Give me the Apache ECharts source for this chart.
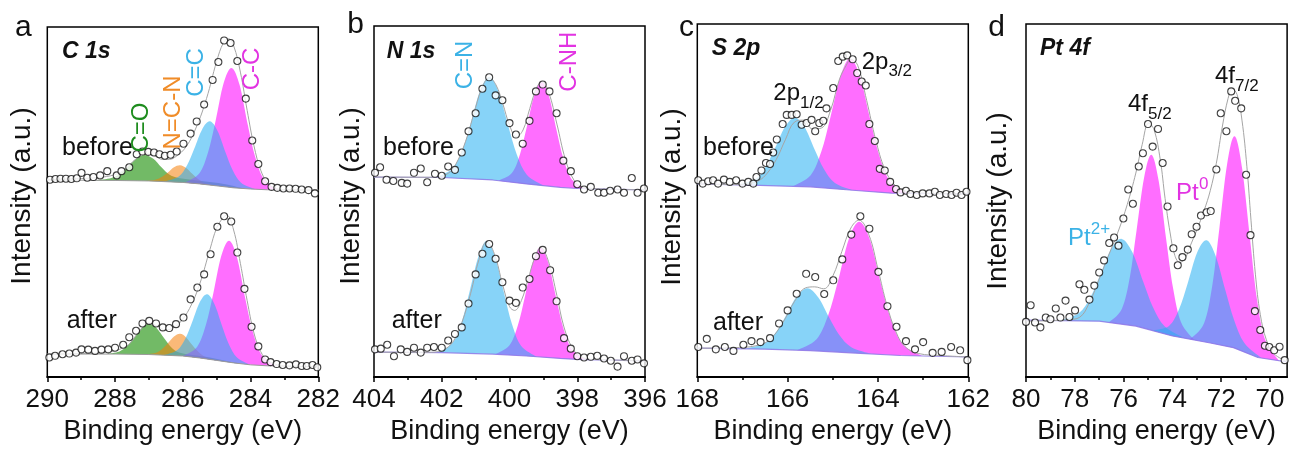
<!DOCTYPE html>
<html><head><meta charset="utf-8">
<script src="https://cdn.jsdelivr.net/npm/echarts@6/dist/echarts.min.js"></script>
<style>html,body{margin:0;padding:0;background:#fff}#c{width:1290px;height:450px}</style>
</head><body><div id="c"></div>
<script>
// ---------- tick labels ----------
const ticksA = [290, 288, 286, 284, 282];
const minorA = [289, 287, 285, 283];
const ticksB = [404, 402, 400, 398, 396];
const minorB = [403, 401, 399, 397];
const ticksC = [168, 166, 164, 162];
const minorC = [167, 165, 163];
const ticksD = [80, 78, 76, 74, 72, 70];
const minorD = [79, 77, 75, 73, 71];

// ---------- panel a : C 1s ----------
const scatterAB = [[289.92,201.3],[289.76,202],[289.61,202.3],[289.45,202.3],[289.29,202],[289.13,202.7],[288.99,208.3],[288.82,203.3],[288.64,204],[288.44,205.7],[288.23,210],[287.95,205.7],[287.81,210],[287.58,214],[287.36,227.3],[287.19,230],[287.02,229.7],[286.85,229],[286.69,227.3],[286.53,225.7],[286.36,226.7],[286.18,230],[285.98,238],[285.77,248.3],[285.59,260.7],[285.37,278],[285.12,303],[284.95,321.3],[284.78,343.3],[284.59,340.7],[284.39,322.3],[284.14,284],[283.95,241.3],[283.77,217.3],[283.57,199.7],[283.38,194],[283.21,193],[283.03,192.3],[282.85,192.3],[282.67,192],[282.49,191.3],[282.29,190.7],[282.10,187.3]];
const envAB = [[290,201.5],[289,202.5],[288.5,203.5],[288,206.5],[287.7,212],[287.4,222],[287.12,227.5],[286.85,226],[286.6,222],[286.4,222],[286.2,225],[285.9,235],[285.6,255],[285.3,284],[285.0,322],[284.8,341],[284.65,345],[284.5,338],[284.3,311],[284.1,272],[283.9,236],[283.7,211],[283.5,198],[283.3,193],[283,191],[282,190.5]];
const bgAB = [[290,201],[288,200.5],[287,200],[286,198.5],[285.5,197],[285,195],[284.5,193],[284,191.8],[283.5,191],[282,190.7]];
const peakAB_CO = [[288.56,200.6],[288.11,202.9],[287.84,207.8],[287.62,214.8],[287.37,223.0],[287.12,226.6],[286.87,222.6],[286.63,213.9],[286.40,206.5],[286.13,203],[285.68,201],[285.2,199],[284.7,196.5],[284.2,192.3]];
const peakAB_NCN = [[287.14,200.1],[286.81,201.3],[286.61,204.3],[286.44,208.7],[286.26,214.0],[286.08,216.1],[285.90,213.3],[285.72,207.3],[285.55,202.1],[285.35,198.0],[285.02,195.1]];
const peakAB_CdC = [[286.54,199.3],[286.12,204.5],[285.87,216.2],[285.66,233.0],[285.43,252.6],[285.20,260.8],[284.97,250.8],[284.74,229.4],[284.53,211.2],[284.28,198.3],[283.86,191.6]];
const peakAB_CC = [[285.94,198.2],[285.51,207.9],[285.25,229.9],[285.03,261.7],[284.80,299.1],[284.56,315.3],[284.32,297.5],[284.09,258.6],[283.87,225.5],[283.61,202.1],[283.18,190.9]];

const scatterAA = [[289.94,20],[289.77,21.7],[289.55,23.3],[289.35,24],[289.15,25],[288.99,28.3],[288.79,28],[288.59,26.7],[288.40,28],[288.20,28.3],[288.00,30],[287.76,33],[287.58,40.7],[287.38,47.3],[287.19,54.7],[286.99,57.3],[286.79,54.7],[286.59,50.7],[286.40,50],[286.20,54],[285.98,60.7],[285.77,79.3],[285.57,91.3],[285.37,104.7],[285.18,125.3],[284.98,153.3],[284.78,164],[284.57,158.7],[284.39,127],[284.18,90],[283.97,51.3],[283.77,31.3],[283.57,18],[283.41,15.3],[283.23,13.3],[283.05,12.3],[282.85,12],[282.66,13],[282.49,11.3],[282.34,11.3],[282.17,12.3],[282.03,10]];
const envAA = [[290,23.5],[289,24],[288.5,24.5],[288.2,25.5],[287.9,28],[287.6,33],[287.3,46],[287.0,55],[286.75,52],[286.5,48],[286.3,50],[286.1,55],[285.8,70],[285.5,95],[285.2,130],[285.0,152],[284.8,163],[284.7,165],[284.5,150],[284.3,116],[284.1,78],[283.9,45],[283.7,26],[283.5,17],[283.2,12.5],[283,11.5],[282,10.5]];
const bgAA = [[290,23.5],[288,23.5],[287,23],[286,21.5],[285.5,19.5],[285,17],[284.5,14.5],[284,12.5],[283.5,11.5],[282,10.5]];
const peakAA_CO = [[288.27,23.5],[287.87,26.2],[287.63,32.1],[287.43,40.4],[287.21,50.2],[286.99,54.5],[286.77,49.8],[286.55,39.5],[286.35,30.8],[286.11,25.0],[285.71,22.5],[285.2,20],[284.7,16.5],[284.2,13.3]];
const peakAA_NCN = [[287.14,23.1],[286.81,24.7],[286.61,28.7],[286.44,34.5],[286.26,41.3],[286.08,44.1],[285.90,40.5],[285.72,32.7],[285.55,26.0],[285.35,20.8],[285.02,17.1]];
const peakAA_CdC = [[286.56,22.3],[286.16,27.6],[285.92,39.6],[285.72,56.4],[285.50,76.3],[285.28,84.4],[285.06,74.1],[284.84,52.2],[284.64,33.6],[284.40,20.0],[284.00,12.5]];
const peakAA_CC = [[286.01,21.5],[285.58,30.8],[285.32,53.1],[285.10,85.2],[284.87,122.9],[284.63,139.1],[284.39,120.7],[284.16,80.8],[283.94,46.9],[283.68,22.9],[283.25,11.3]];

// ---------- panel b : N 1s ----------
const scatterBB = [[403.97,208.3],[403.82,214],[403.63,201.3],[403.43,200],[403.18,198],[403.02,197.3],[402.82,208.3],[402.62,212.7],[402.43,198.7],[402.20,207.3],[402.00,205.3],[401.81,214.7],[401.61,211.3],[401.41,229],[401.21,250.7],[401.00,269],[400.80,294],[400.60,305.7],[400.41,287.3],[400.21,282.3],[400.00,259],[399.81,247.3],[399.61,238],[399.41,261.3],[399.22,291.3],[399.02,298.3],[398.82,291.3],[398.61,269],[398.41,220.7],[398.19,210],[398.00,196.7],[397.80,191.3],[397.60,194],[397.38,188],[397.21,188],[397.03,190],[396.81,191.3],[396.62,188],[396.39,203],[396.22,188],[396.03,192.3]];
const envBB = [[404,204],[402.5,203.8],[402.1,204.2],[401.8,208],[401.6,216],[401.3,240],[401.0,275],[400.8,296],[400.6,305],[400.4,298],[400.2,279],[400.0,257],[399.8,245],[399.6,252],[399.4,274],[399.2,295],[399.05,301],[398.85,291],[398.6,258],[398.35,222],[398.1,201],[397.85,194],[397.5,192.3],[397,191.5],[396,191]];
const bgBB = [[404,204],[402,203.5],[400.5,201],[399.5,197],[398.5,193.5],[398,192.3],[396,191]];
const peakBB_CN = [[402.19,203.6],[401.69,212.4],[401.39,231.7],[401.14,259.4],[400.87,291.9],[400.59,306.2],[400.32,290.6],[400.04,256.5],[399.79,227.4],[399.49,206.4],[398.99,195.2]];
const peakBB_CNH = [[400.33,200.3],[399.93,208.1],[399.69,227.3],[399.49,254.9],[399.27,287.4],[399.05,301.4],[398.83,285.9],[398.61,251.8],[398.41,222.8],[398.17,202.1],[397.77,192.2]];

const scatterBA = [[403.97,28.3],[403.80,29],[403.61,33],[403.41,21.3],[403.21,28.3],[403.02,25.7],[402.82,30],[402.62,25],[402.43,30],[402.23,30.7],[402.00,30],[401.81,37.3],[401.61,44],[401.41,50.7],[401.21,75],[401.00,104.7],[400.80,125.7],[400.60,135.7],[400.41,120.7],[400.21,96.7],[400.00,78],[399.81,75.7],[399.61,91.3],[399.41,100],[399.22,123.3],[399.02,129.7],[398.80,109],[398.61,77.3],[398.39,39.7],[398.19,29],[398.00,21.3],[397.80,20],[397.60,20.7],[397.41,21.7],[397.21,19],[397.01,16.7],[396.81,10.7],[396.62,21.3],[396.39,16.7],[396.22,18],[396.03,14]];
const envBA = [[404,25.5],[402.5,25.2],[402.1,26],[401.8,31],[401.6,40],[401.4,56],[401.15,85],[400.9,120],[400.67,138],[400.45,126],[400.2,94],[400.0,72],[399.85,68],[399.65,78],[399.45,100],[399.25,122],[399.08,132],[398.85,118],[398.6,83],[398.4,52],[398.15,30],[397.9,21],[397.5,18],[397,17.5],[396,16.5]];
const bgBA = [[404,25.5],[402,25],[400.5,23.5],[399.5,21.5],[398.5,19],[398,18],[396,16.5]];
const peakBA_CN = [[402.14,25.0],[401.68,34.9],[401.41,56.4],[401.18,87.0],[400.92,122.8],[400.67,138.7],[400.42,122.2],[400.16,85.6],[399.93,54.4],[399.66,32.0],[399.20,20.8]];
const peakBA_CNH = [[400.42,23.3],[400.00,32.5],[399.75,53.1],[399.54,82.8],[399.31,117.3],[399.08,132.5],[398.85,116.2],[398.62,80.5],[398.41,49.9],[398.16,28.3],[397.74,17.8]];

// ---------- panel c : S 2p ----------
const scatterCB = [[167.98,200.7],[167.88,197.3],[167.76,199.7],[167.65,200.7],[167.54,197.3],[167.41,201.3],[167.28,199],[167.14,200.7],[167.00,197.3],[166.87,199],[166.76,197.3],[166.69,204],[166.58,210.7],[166.48,218.3],[166.39,217.3],[166.32,229],[166.24,242.3],[166.11,258],[166.02,267.3],[165.91,267.3],[165.80,268],[165.69,257.3],[165.58,259],[165.47,262.3],[165.39,250.7],[165.30,259],[165.21,261.3],[165.14,274],[164.99,294.7],[164.88,322.3],[164.78,326.7],[164.68,328],[164.56,324],[164.46,310],[164.36,301.3],[164.27,297.3],[164.19,258],[164.07,240.7],[163.96,212.3],[163.85,210.7],[163.73,199],[163.60,191.7],[163.50,188.3],[163.38,190],[163.28,186.7],[163.14,185.7],[163.01,187.3],[162.86,187.3],[162.74,189],[162.63,185.7],[162.49,186.7],[162.37,185.7],[162.26,188],[162.15,185.7],[162.04,189]];
const envCB = [[168,197],[167.2,196.3],[166.9,197],[166.65,200],[166.45,208],[166.25,222],[166.05,242],[165.85,260],[165.65,262],[165.45,253],[165.25,254],[165.05,272],[164.85,304],[164.7,318],[164.6,324],[164.45,318],[164.25,282],[164.05,242],[163.85,212],[163.65,197],[163.45,190.5],[163.1,188],[162,186.5]];
const bgCB = [[168,197],[166.8,195.7],[165.5,194],[164.7,191],[163.7,187.5],[162,186.5]];
const peakCB_12 = [[167.12,196.1],[166.72,201.8],[166.48,214.8],[166.28,233.2],[166.06,254.9],[165.84,264.4],[165.62,254.4],[165.40,231.8],[165.20,212.4],[164.96,198.2],[164.56,190.5]];
const peakCB_32 = [[165.89,194.5],[165.49,205.9],[165.25,230.4],[165.05,265.5],[164.83,306.7],[164.61,324.7],[164.39,305.1],[164.17,262.3],[163.97,225.7],[163.73,199.5],[163.33,187.3]];

const scatterCA = [[167.98,30.7],[167.79,39],[167.59,28.3],[167.39,30.7],[167.20,26.7],[166.98,33],[166.80,36.7],[166.60,35.7],[166.39,39.7],[166.19,54.7],[166.00,68],[165.80,85],[165.59,105.3],[165.39,102],[165.19,84.7],[164.99,98.7],[164.79,120],[164.59,145.3],[164.39,164],[164.19,151.3],[163.99,107.3],[163.79,72.3],[163.59,51.3],[163.38,36.7],[163.18,28.3],[163.00,35.7],[162.79,24.7],[162.59,25.7],[162.38,30.7],[162.18,27.3],[162.02,17.3]];
const envCA = [[168,29.5],[167.2,30],[166.7,32],[166.4,38],[166.1,56],[165.85,77],[165.6,91],[165.4,92],[165.2,90],[165.0,103],[164.8,128],[164.6,152],[164.42,160],[164.2,145],[164.0,110],[163.8,73],[163.6,46],[163.4,31],[163.1,24],[162.6,22],[162,20.5]];
const bgCA = [[168,29.5],[166.5,28.5],[165.5,27],[164.5,24.5],[163.5,22],[162,20.5]];
const peakCA_12 = [[166.97,28.8],[166.53,34.2],[166.26,45.8],[166.04,62.5],[165.80,82.1],[165.56,90.6],[165.32,81.2],[165.08,60.7],[164.86,43.1],[164.59,30.4],[164.15,23.6]];
const peakCA_32 = [[165.79,27.4],[165.36,38.6],[165.10,63.3],[164.88,98.7],[164.65,140.1],[164.41,158.3],[164.17,138.9],[163.94,96.3],[163.72,59.9],[163.46,33.9],[163.03,21.5]];

// ---------- panel d : Pt 4f ----------
const scatterD = [[80.00,56.3],[79.81,73.3],[79.63,55.7],[79.41,50.7],[79.19,60.7],[79.00,59],[78.78,70],[78.59,60.7],[78.38,78],[78.22,61.3],[77.99,68],[77.81,94.7],[77.61,89],[77.40,79],[77.20,93.3],[77.00,106.7],[76.80,119],[76.59,136.7],[76.39,142.3],[76.21,134],[76.01,161.7],[75.81,191.3],[75.62,176.7],[75.38,214.7],[75.21,228.3],[75.00,258],[74.81,235],[74.59,253],[74.40,218.3],[74.20,174],[73.96,131.3],[73.78,114],[73.59,122.3],[73.37,130],[73.21,145.7],[73.01,153.3],[72.83,164.7],[72.60,168],[72.43,169.3],[72.20,211.7],[72.02,269],[71.79,250.7],[71.59,291.3],[71.43,281.7],[71.18,274],[70.98,206.3],[70.80,144.7],[70.62,67.3],[70.40,48],[70.21,32],[70.03,30.7],[69.83,27.3],[69.61,31],[69.40,17.3]];
const envD = [[80,57],[79,57.5],[78.3,58.5],[77.8,61],[77.4,76],[77.0,100],[76.6,125],[76.2,150],[75.85,176],[75.5,208],[75.24,237],[74.97,259],[74.75,252],[74.5,222],[74.3,182],[74.1,148],[73.9,124],[73.7,117],[73.5,120],[73.3,132],[73.0,150],[72.7,170],[72.45,190],[72.2,218],[71.95,256],[71.72,284],[71.55,294],[71.35,288],[71.15,262],[70.95,215],[70.78,160],[70.6,105],[70.4,64],[70.15,38],[69.85,24],[69.3,16]];
const bgD = [[80,58],[77,57],[75.5,52],[74,42],[72.5,35],[71.5,30],[70.5,20],[69.3,15.5]];
const peakD_Pt0_52 = [[76.62,55.7],[76.07,69.8],[75.74,102.6],[75.47,149.5],[75.16,203.6],[74.86,226.7],[74.56,199.6],[74.26,141.4],[73.98,91.7],[73.65,56.3],[73.10,37.8]];
const peakD_Pt0_72 = [[73.27,38.6],[72.70,55.1],[72.36,94.3],[72.08,150.8],[71.76,217.1],[71.45,245.5],[71.14,212.2],[70.82,141.1],[70.54,80.2],[70.20,38.1],[69.63,16.7]];
const peakD_Pt2_52 = [[78.64,57.5],[77.84,65.0],[77.36,81.3],[76.96,104.4],[76.52,130.2],[76.08,140.9],[75.64,127.3],[75.20,97.5],[74.80,71.5],[74.32,51.8],[73.52,39.8]];
const peakD_Pt2_72 = [[74.84,47.6],[74.14,52.2],[73.72,69.6],[73.37,95.9],[72.99,126.7],[72.60,139.5],[72.22,123.0],[71.83,88.5],[71.48,58.7],[71.06,34.9],[70.36,19.5]];

// ---------- layout & style ----------
const FONT = '"Liberation Sans", Arial, Helvetica, sans-serif';
const MAG = 'rgba(255,0,255,0.57)';
const CYAN = 'rgba(37,175,242,0.55)';
const GREEN = 'rgba(20,140,0,0.6)';
const ORANGE = 'rgba(245,128,10,0.55)';
const BGLINE = 'rgba(140,120,230,0.85)';

const panels = [
  {left:47.3, top:27, width:271, height:357, min:282, max:290, ticks:ticksA, minor:minorA},
  {left:374, top:26, width:271, height:358, min:396, max:404, ticks:ticksB, minor:minorB},
  {left:697.3, top:24, width:271, height:360, min:162, max:168, ticks:ticksC, minor:minorC},
  {left:1026, top:24, width:264, height:360, min:69.3, max:80, ticks:ticksD, minor:minorD}
];

const grid = [], xAxis = [], yAxis = [];
panels.forEach((p, i) => {
  grid.push({left:p.left, top:p.top, width:p.width, height:p.height, show:true,
    borderColor:'#000', borderWidth:1.5, backgroundColor:'transparent'});
  xAxis.push({gridIndex:i, type:'value', inverse:true, min:p.min, max:p.max,
    name:'Binding energy (eV)', nameLocation:'middle', nameGap:38,
    nameTextStyle:{fontSize:27, color:'#111', fontFamily:FONT},
    axisLine:{show:true, onZero:false, lineStyle:{color:'#000', width:2}},
    axisTick:{show:true, inside:false, length:5, customValues:p.ticks, lineStyle:{color:'#000', width:1.5}},
    axisLabel:{show:true, customValues:p.ticks, fontSize:26, color:'#111', margin:10, fontFamily:FONT},
    splitLine:{show:false}});
  xAxis.push({gridIndex:i, type:'value', inverse:true, min:p.min, max:p.max, position:'bottom',
    axisLine:{show:false, onZero:false},
    axisTick:{show:true, inside:false, length:3, customValues:p.minor, lineStyle:{color:'#000', width:1.5}},
    axisLabel:{show:false}, splitLine:{show:false}});
  yAxis.push({gridIndex:i, type:'value', min:0, max:p.height, show:false});
});

const series = [];
function peak(gi, pts, bg, color, z) {
  series.push({type:'custom', xAxisIndex:gi*2, yAxisIndex:gi, z:z||2, silent:true,
    data:[pts[0]], encode:{x:0, y:1},
    renderItem:(params, api) => {
      const top = pts.map(q => api.coord(q));
      const e0 = pts[0][0], e1 = pts[pts.length-1][0];
      const hi = Math.max(e0, e1), lo = Math.min(e0, e1);
      const bottom = bg.filter(q => q[0] < hi && q[0] > lo).sort((a, b) => a[0] - b[0]);
      let d = 'M' + top[0][0] + ',' + top[0][1];
      for (let i = 0; i < top.length - 1; i++) {
        const p0 = top[Math.max(i-1, 0)], p1 = top[i], p2 = top[i+1], p3 = top[Math.min(i+2, top.length-1)];
        const c1x = p1[0] + (p2[0]-p0[0])/6, c1y = p1[1] + (p2[1]-p0[1])/6;
        const c2x = p2[0] - (p3[0]-p1[0])/6, c2y = p2[1] - (p3[1]-p1[1])/6;
        d += ' C' + c1x + ',' + c1y + ' ' + c2x + ',' + c2y + ' ' + p2[0] + ',' + p2[1];
      }
      bottom.forEach(q => { const c = api.coord(q); d += ' L' + c[0] + ',' + c[1]; });
      d += ' Z';
      return {type:'path', shape:{pathData:d}, style:{fill:color, stroke:null}};
    }});
}
function line(gi, data, color, width, smooth, z) {
  series.push({type:'line', xAxisIndex:gi*2, yAxisIndex:gi, data, smooth, symbol:'none', silent:true, z,
    lineStyle:{color, width}});
}
function dots(gi, data) {
  series.push({type:'scatter', xAxisIndex:gi*2, yAxisIndex:gi, data, symbol:'circle', symbolSize:7, silent:true, z:6,
    itemStyle:{color:'#fff', borderColor:'#111', borderWidth:1.1}});
}

// panel a
[[peakAB_CO, GREEN],[peakAB_NCN, ORANGE],[peakAB_CC, MAG],[peakAB_CdC, CYAN]].forEach(([d,c]) => peak(0, d, bgAB, c));
[[peakAA_CO, GREEN],[peakAA_NCN, ORANGE],[peakAA_CC, MAG],[peakAA_CdC, CYAN]].forEach(([d,c]) => peak(0, d, bgAA, c));
line(0, bgAB, '#9a9a9a', 1, false, 3); line(0, bgAA, '#9a9a9a', 1, false, 3);
line(0, envAB, '#a5a5a5', 1, 0.4, 4); line(0, envAA, '#a5a5a5', 1, 0.4, 4);
dots(0, scatterAB); dots(0, scatterAA);
// panel b
peak(1, peakBB_CNH, bgBB, MAG); peak(1, peakBB_CN, bgBB, CYAN);
peak(1, peakBA_CNH, bgBA, MAG); peak(1, peakBA_CN, bgBA, CYAN);
line(1, bgBB, BGLINE, 1.2, false, 3); line(1, bgBA, BGLINE, 1.2, false, 3);
line(1, envBB, '#a5a5a5', 1, 0.4, 4); line(1, envBA, '#a5a5a5', 1, 0.4, 4);
dots(1, scatterBB); dots(1, scatterBA);
// panel c
peak(2, peakCB_32, bgCB, MAG); peak(2, peakCB_12, bgCB, CYAN);
peak(2, peakCA_32, bgCA, MAG); peak(2, peakCA_12, bgCA, CYAN);
line(2, bgCB, BGLINE, 1.2, false, 3); line(2, bgCA, BGLINE, 1.2, false, 3);
line(2, envCB, '#a5a5a5', 1, 0.4, 4); line(2, envCA, '#a5a5a5', 1, 0.4, 4);
dots(2, scatterCB); dots(2, scatterCA);
// panel d
peak(3, peakD_Pt0_52, bgD, MAG); peak(3, peakD_Pt0_72, bgD, MAG);
peak(3, peakD_Pt2_52, bgD, CYAN); peak(3, peakD_Pt2_72, bgD, CYAN);
line(3, bgD, BGLINE, 1.2, false, 3);
line(3, envD, '#a5a5a5', 1, 0.4, 4);
dots(3, scatterD);

// ---------- texts ----------
function T(x, baseline, text, fs, o) {
  o = o || {};
  return {type:'text', x, y: baseline - 0.35*fs, z:100, silent:true,
    style:{text, fontSize:fs, fontFamily:FONT, fontWeight:o.fw||'normal', fontStyle:o.fi||'normal',
      fill:o.color||'#111', align:o.align||'left', verticalAlign:'middle'}};
}
function R(cx, cy, text, fs, color) {
  return {type:'text', x:cx, y:cy, rotation:Math.PI/2, z:100, silent:true,
    style:{text, fontSize:fs, fontFamily:FONT, fill:color||'#111', align:'center', verticalAlign:'middle'}};
}
const BLUE_T = '#3bb2e6', MAG_T = '#e233e2';
const graphic = [
  T(23.3, 38, 'a', 30, {align:'center'}), T(355.5, 35, 'b', 30, {align:'center'}),
  T(686.5, 38, 'c', 30, {align:'center'}), T(996.5, 38, 'd', 30, {align:'center'}),
  T(62, 60, 'C 1s', 23, {fw:'bold', fi:'italic'}), T(386.7, 60, 'N 1s', 23, {fw:'bold', fi:'italic'}),
  T(711.7, 56.5, 'S 2p', 23, {fw:'bold', fi:'italic'}), T(1040, 56.5, 'Pt 4f', 23, {fw:'bold', fi:'italic'}),
  T(62, 156.7, 'before', 25), T(66.7, 330, 'after', 25),
  T(383, 156.7, 'before', 25), T(391.7, 330, 'after', 25),
  T(703, 156.7, 'before', 25), T(713, 331.7, 'after', 25),
  R(141, 127.5, 'C=O', 24, '#1e8c1e'), R(173.3, 112.5, 'N=C-N', 24, '#f08c28'),
  R(196, 72.5, 'C=C', 24, BLUE_T), R(252.5, 69, 'C-C', 24, MAG_T),
  R(465, 65, 'C=N', 24, BLUE_T), R(569, 61.7, 'C-NH', 24, MAG_T),
  T(773.3, 102, '2p', 24), T(800, 109, '1/2', 17),
  T(861.7, 70.3, '2p', 24), T(888.4, 77, '3/2', 17),
  T(1128, 113, '4f', 24), T(1148, 120, '5/2', 17),
  T(1215, 85, '4f', 24), T(1235, 92, '7/2', 17),
  T(1176, 202, 'Pt', 24, {color:MAG_T}), T(1199, 190, '0', 17, {color:MAG_T}),
  T(1068, 247, 'Pt', 24, {color:BLUE_T}), T(1090.7, 235, '2+', 17, {color:BLUE_T}),
  R(22, 196, 'Intensity (a.u.)', 28), R(351, 196, 'Intensity (a.u.)', 28),
  R(672, 197, 'Intensity (a.u.)', 28), R(998, 201, 'Intensity (a.u.)', 28)
];

const chart = echarts.init(document.getElementById('c'), null, {renderer:'canvas'});
chart.setOption({animation:false, backgroundColor:'#fff', grid, xAxis, yAxis, series, graphic});
</script></body></html>
